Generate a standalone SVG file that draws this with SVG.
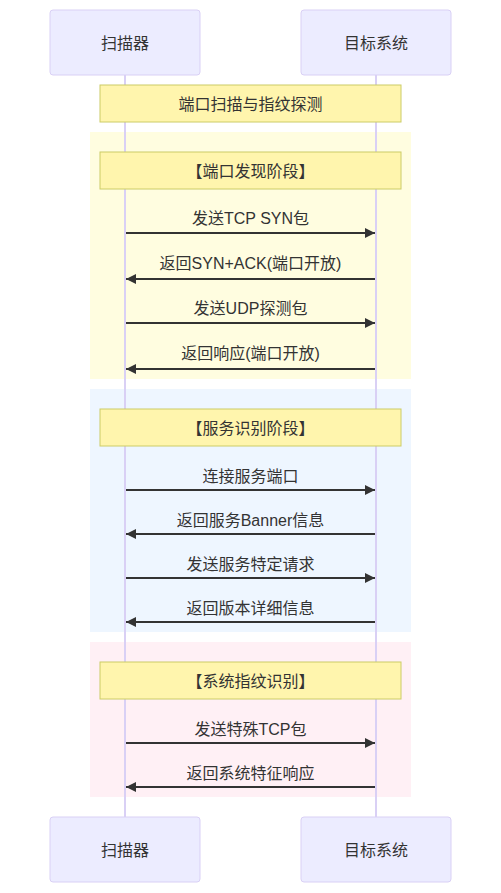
<svg xmlns="http://www.w3.org/2000/svg" width="501" height="893" viewBox="0 0 501 893">
<style>
text{font-family:"Liberation Sans","Noto Sans CJK SC",sans-serif;font-size:16px;fill:#333;text-anchor:middle;dominant-baseline:central}
.actor{fill:#ECECFF;stroke:#d9d0f5;stroke-width:1}
.life{stroke:#d9d0f5;stroke-width:2}
.note{fill:#fff5ad;stroke:#cccc66;stroke-width:1}
.msg{stroke:#333;stroke-width:2;fill:none}
</style>
<defs>
<marker id="ah" markerWidth="10" markerHeight="10" viewBox="0 0 10 10" refX="10" refY="5" markerUnits="userSpaceOnUse" orient="auto">
<path d="M0,0 L10,5 L0,10 z" fill="#333"/>
</marker>
</defs>
<rect x="0" y="0" width="501" height="893" fill="#fff"/>
<g id="regions">
<rect x="90" y="132" width="321" height="247" fill="#fffde0"/>
<rect x="90" y="389" width="321" height="243" fill="#eef6ff"/>
<rect x="90" y="642" width="321" height="155" fill="#fff0f5"/>
</g>
<g id="lifelines">
<line class="life" x1="125" y1="75" x2="125" y2="817"/>
<line class="life" x1="376" y1="75" x2="376" y2="817"/>
</g>
<g id="actor-scanner-top"><rect class="actor" x="50" y="10" width="150" height="65" rx="3"/><text x="125" y="43">扫描器</text></g>
<g id="actor-target-top"><rect class="actor" x="301" y="10" width="150" height="65" rx="3"/><text x="376" y="43">目标系统</text></g>
<g id="actor-scanner-bottom"><rect class="actor" x="50" y="817" width="150" height="65" rx="3"/><text x="125" y="850">扫描器</text></g>
<g id="actor-target-bottom"><rect class="actor" x="301" y="817" width="150" height="65" rx="3"/><text x="376" y="850">目标系统</text></g>
<g id="note-main"><rect class="note" x="100" y="85" width="301" height="37"/><text x="250.5" y="104">端口扫描与指纹探测</text></g>
<g id="note-phase1"><rect class="note" x="100" y="152" width="301" height="37"/><text x="250.5" y="171">【端口发现阶段】</text></g>
<g id="note-phase2"><rect class="note" x="100" y="409" width="301" height="37"/><text x="250.5" y="428">【服务识别阶段】</text></g>
<g id="note-phase3"><rect class="note" x="100" y="662" width="301" height="37"/><text x="250.5" y="681">【系统指纹识别】</text></g>
<g id="connectors">
<line class="msg" x1="126" y1="233" x2="375" y2="233" marker-end="url(#ah)"/>
<line class="msg" x1="375" y1="279" x2="126" y2="279" marker-end="url(#ah)"/>
<line class="msg" x1="126" y1="323" x2="375" y2="323" marker-end="url(#ah)"/>
<line class="msg" x1="375" y1="369" x2="126" y2="369" marker-end="url(#ah)"/>
<line class="msg" x1="126" y1="490" x2="375" y2="490" marker-end="url(#ah)"/>
<line class="msg" x1="375" y1="534" x2="126" y2="534" marker-end="url(#ah)"/>
<line class="msg" x1="126" y1="578" x2="375" y2="578" marker-end="url(#ah)"/>
<line class="msg" x1="375" y1="622" x2="126" y2="622" marker-end="url(#ah)"/>
<line class="msg" x1="126" y1="743" x2="375" y2="743" marker-end="url(#ah)"/>
<line class="msg" x1="375" y1="787" x2="126" y2="787" marker-end="url(#ah)"/>
</g>
<g id="labels">
<text x="250.5" y="218">发送TCP SYN包</text>
<text x="250.5" y="263">返回SYN+ACK(端口开放)</text>
<text x="250.5" y="308">发送UDP探测包</text>
<text x="250.5" y="353">返回响应(端口开放)</text>
<text x="250.5" y="476">连接服务端口</text>
<text x="250.5" y="520">返回服务Banner信息</text>
<text x="250.5" y="564">发送服务特定请求</text>
<text x="250.5" y="608">返回版本详细信息</text>
<text x="250.5" y="729">发送特殊TCP包</text>
<text x="250.5" y="773">返回系统特征响应</text>
</g>
</svg>
